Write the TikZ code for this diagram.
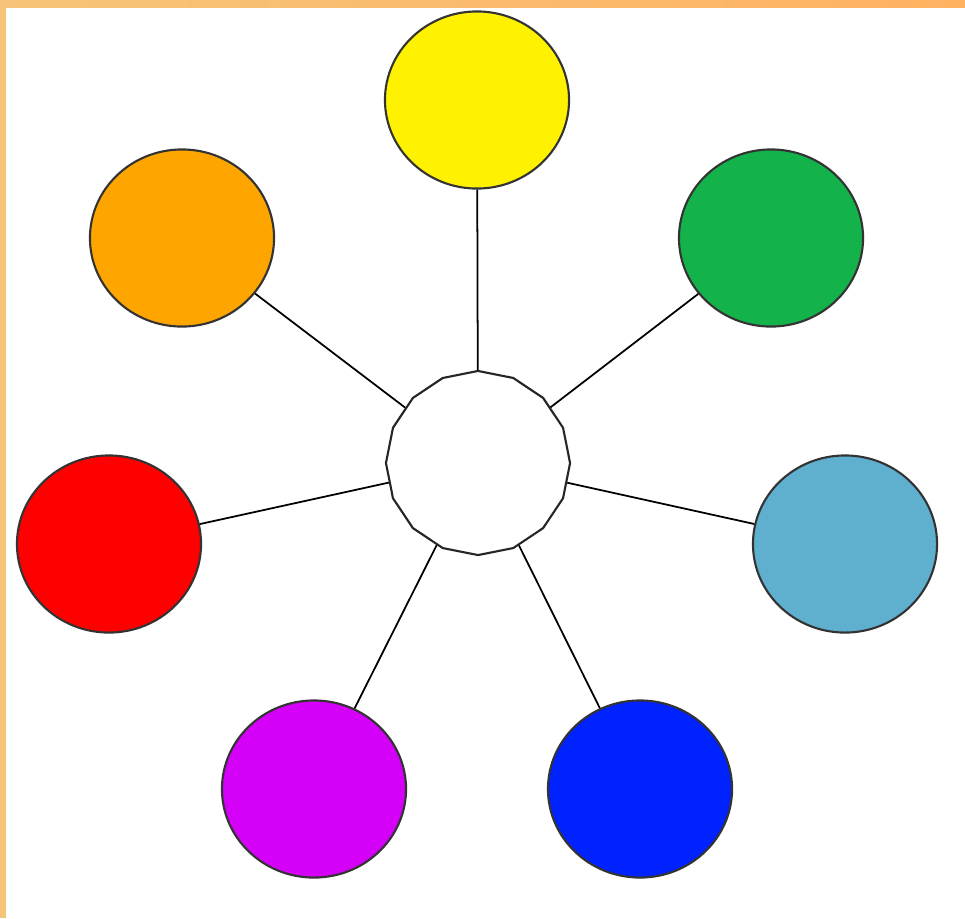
\documentclass[tikz,border=0pt]{standalone}
\usetikzlibrary{shapes.geometric}
\definecolor{frame}{RGB}{246,196,120}
\definecolor{frametop}{RGB}{255,178,98}
\definecolor{cyel}{RGB}{255,242,0}
\definecolor{cgrn}{RGB}{20,178,74}
\definecolor{corg}{RGB}{255,165,0}
\definecolor{cred}{RGB}{255,0,0}
\definecolor{cltb}{RGB}{94,176,206}
\definecolor{cmag}{RGB}{212,0,248}
\definecolor{cblu}{RGB}{0,34,255}
\tikzset{
  blob/.style={ellipse,draw=black!80,line width=.6pt,inner sep=0pt,minimum width=1.84cm,minimum height=1.77cm},
  hub/.style={regular polygon,regular polygon sides=16,shape border rotate=11.25,draw=black!85,line width=.6pt,fill=white,inner sep=0pt,minimum size=1.84cm},
  spoke/.style={line width=.5pt,black}
}
\begin{document}
\begin{tikzpicture}[x=.01cm,y=-.01cm]
  \useasboundingbox (0,0) rectangle (965,918);
  \fill[white] (0,0) rectangle (965,918);
  \shade[left color=frame,right color=frametop] (0,0) rectangle (965,7);
  \fill[frame] (0,0) rectangle (6,918);
  \node[hub] (hub) at (478,463) {};
  \node[blob,fill=cyel] (yel) at (477,100) {};
  \node[blob,fill=cgrn] (grn) at (771,238) {};
  \node[blob,fill=corg] (org) at (182,238) {};
  \node[blob,fill=cred] (red) at (109,544) {};
  \node[blob,fill=cltb] (ltb) at (845,544) {};
  \node[blob,fill=cmag] (mag) at (314,789) {};
  \node[blob,fill=cblu] (blu) at (640,789) {};
  \foreach \c in {yel,grn,org,red,ltb,mag,blu}
    \draw[spoke] (hub) -- (\c);
\end{tikzpicture}
\end{document}
